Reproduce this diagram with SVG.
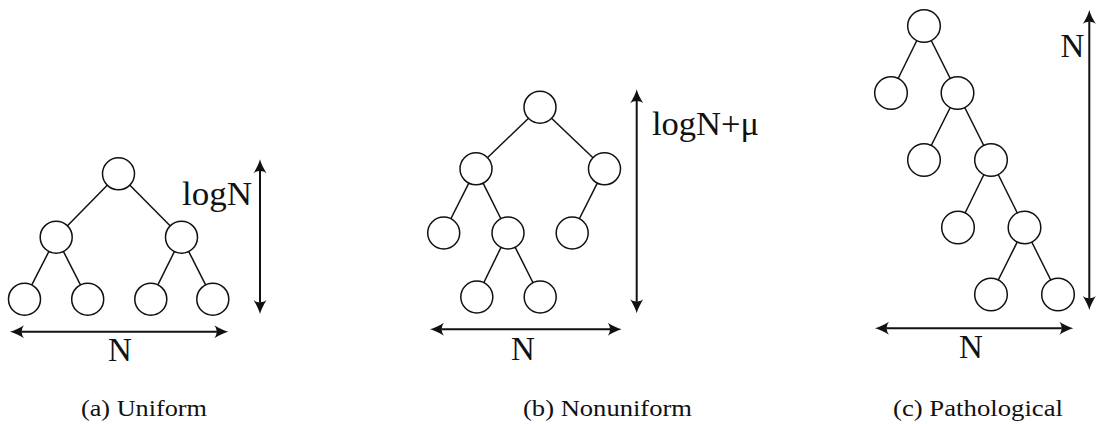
<svg xmlns="http://www.w3.org/2000/svg" width="1097" height="424" viewBox="0 0 1097 424">
<style>
.edge{stroke:#111;stroke-width:1.5;fill:none}
.node{fill:#fff;stroke:#111;stroke-width:1.5}
.dim{stroke:#111;stroke-width:2;fill:none;marker-start:url(#ah);marker-end:url(#ah)}
.lbl{font-family:"Liberation Serif","Times New Roman",serif;font-size:33px;fill:#111}
.cap{font-family:"Liberation Serif","Times New Roman",serif;font-size:23px;fill:#111}
</style>
<defs>
<marker id="ah" markerUnits="userSpaceOnUse" markerWidth="16" markerHeight="16" refX="2.5" refY="0" orient="auto-start-reverse" overflow="visible">
<path d="M14,0 C10,1 5,3.5 0,6.5 C3,3 3,-3 0,-6.5 C5,-3.5 10,-1 14,0 Z" fill="#111"/>
</marker>
</defs>
<rect width="1097" height="424" fill="#fff"/>
<g id="connectors">
<line class="edge" x1="118.5" y1="173.8" x2="56.2" y2="237.2"/>
<line class="edge" x1="118.5" y1="173.8" x2="181.5" y2="237.2"/>
<line class="edge" x1="56.2" y1="237.2" x2="24.5" y2="299.2"/>
<line class="edge" x1="56.2" y1="237.2" x2="87.7" y2="299.2"/>
<line class="edge" x1="181.5" y1="237.2" x2="150.8" y2="299.2"/>
<line class="edge" x1="181.5" y1="237.2" x2="212.8" y2="299.2"/>
<line class="edge" x1="540" y1="107.2" x2="476" y2="168.8"/>
<line class="edge" x1="540" y1="107.2" x2="604.5" y2="168.8"/>
<line class="edge" x1="476" y1="168.8" x2="443.7" y2="233"/>
<line class="edge" x1="476" y1="168.8" x2="508" y2="233"/>
<line class="edge" x1="604.5" y1="168.8" x2="572.2" y2="233"/>
<line class="edge" x1="508" y1="233" x2="476.8" y2="297"/>
<line class="edge" x1="508" y1="233" x2="540.2" y2="297"/>
<line class="edge" x1="924" y1="26" x2="891" y2="93"/>
<line class="edge" x1="924" y1="26" x2="957.5" y2="93"/>
<line class="edge" x1="957.5" y1="93" x2="924" y2="160"/>
<line class="edge" x1="957.5" y1="93" x2="991" y2="160"/>
<line class="edge" x1="991" y1="160" x2="958" y2="227.5"/>
<line class="edge" x1="991" y1="160" x2="1024.5" y2="227.5"/>
<line class="edge" x1="1024.5" y1="227.5" x2="991" y2="294.5"/>
<line class="edge" x1="1024.5" y1="227.5" x2="1058" y2="294.5"/>
<line class="dim" x1="21.5" y1="331.7" x2="216.8" y2="331.7"/>
<line class="dim" x1="260" y1="170.8" x2="260" y2="302.5"/>
<line class="dim" x1="441.5" y1="329.3" x2="610.2" y2="329.3"/>
<line class="dim" x1="636.7" y1="100.8" x2="636.7" y2="301.8"/>
<line class="dim" x1="886.5" y1="328.3" x2="1061.8" y2="328.3"/>
<line class="dim" x1="1089.3" y1="21.5" x2="1089.3" y2="298.5"/>
</g>
<g id="tree-a">
<circle id="a-root" class="node" cx="118.5" cy="173.8" r="16"/>
<circle id="a-l" class="node" cx="56.2" cy="237.2" r="16"/>
<circle id="a-r" class="node" cx="181.5" cy="237.2" r="16"/>
<circle id="a-ll" class="node" cx="24.5" cy="299.2" r="16"/>
<circle id="a-lr" class="node" cx="87.7" cy="299.2" r="16"/>
<circle id="a-rl" class="node" cx="150.8" cy="299.2" r="16"/>
<circle id="a-rr" class="node" cx="212.8" cy="299.2" r="16"/>
<text class="lbl" x="182" y="205" textLength="70" lengthAdjust="spacingAndGlyphs">logN</text>
<text class="lbl" x="120" y="361" text-anchor="middle">N</text>
<text class="cap" x="81" y="416" textLength="126" lengthAdjust="spacingAndGlyphs">(a) Uniform</text>
</g>
<g id="tree-b">
<circle id="b-root" class="node" cx="540" cy="107.2" r="16"/>
<circle id="b-l" class="node" cx="476" cy="168.8" r="16"/>
<circle id="b-r" class="node" cx="604.5" cy="168.8" r="16"/>
<circle id="b-ll" class="node" cx="443.7" cy="233" r="16"/>
<circle id="b-lr" class="node" cx="508" cy="233" r="16"/>
<circle id="b-rl" class="node" cx="572.2" cy="233" r="16"/>
<circle id="b-lrl" class="node" cx="476.8" cy="297" r="16"/>
<circle id="b-lrr" class="node" cx="540.2" cy="297" r="16"/>
<text class="lbl" x="652" y="135" textLength="107" lengthAdjust="spacingAndGlyphs">logN+μ</text>
<text class="lbl" x="523" y="360" text-anchor="middle">N</text>
<text class="cap" x="523" y="416" textLength="169" lengthAdjust="spacingAndGlyphs">(b) Nonuniform</text>
</g>
<g id="tree-c">
<circle id="c-1" class="node" cx="924" cy="26" r="16.3"/>
<circle id="c-2" class="node" cx="891" cy="93" r="16.3"/>
<circle id="c-3" class="node" cx="957.5" cy="93" r="16.3"/>
<circle id="c-4" class="node" cx="924" cy="160" r="16.3"/>
<circle id="c-5" class="node" cx="991" cy="160" r="16.3"/>
<circle id="c-6" class="node" cx="958" cy="227.5" r="16.3"/>
<circle id="c-7" class="node" cx="1024.5" cy="227.5" r="16.3"/>
<circle id="c-8" class="node" cx="991" cy="294.5" r="16.3"/>
<circle id="c-9" class="node" cx="1058" cy="294.5" r="16.3"/>
<text class="lbl" x="1072.5" y="57" text-anchor="middle">N</text>
<text class="lbl" x="971" y="358" text-anchor="middle">N</text>
<text class="cap" x="893" y="416" textLength="170" lengthAdjust="spacingAndGlyphs">(c) Pathological</text>
</g>
</svg>
